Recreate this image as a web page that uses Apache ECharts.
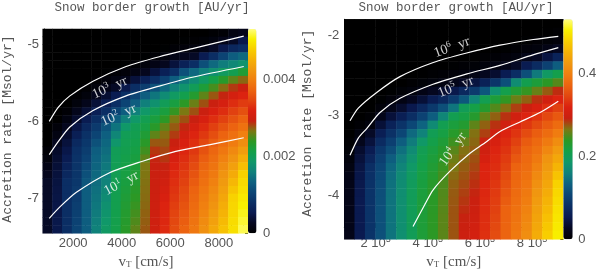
<!DOCTYPE html>
<html><head><meta charset="utf-8">
<script src="https://cdn.jsdelivr.net/npm/echarts@6/dist/echarts.min.js"></script>
<style>html,body{margin:0;padding:0;background:#fff}#c{width:600px;height:275px}</style>
</head><body><div id="c"></div>
<script>
// ---------- categories (cell centres) ----------
const leftVel = [1000,1400,1800,2200,2600,3000,3400,3800,4200,4600,5000,5400,5800,6200,6600,7000,7400,7800,8200,8600,9000];
const leftMdot = [-7.35,-7.25,-7.15,-7.05,-6.95,-6.85,-6.75,-6.65,-6.55,-6.45,-6.35,-6.25,-6.15,-6.05,-5.95,-5.85,-5.75,-5.65,-5.55,-5.45,-5.35,-5.25,-5.15,-5.05,-4.95,-4.85];
const rightVel = [100000,140000,180000,220000,260000,300000,340000,380000,420000,460000,500000,540000,580000,620000,660000,700000,740000,780000,820000,860000,900000];
const rightMdot = [-4.35,-4.25,-4.15,-4.05,-3.95,-3.85,-3.75,-3.65,-3.55,-3.45,-3.35,-3.25,-3.15,-3.05,-2.95,-2.85,-2.75,-2.65,-2.55,-2.45,-2.35,-2.25,-2.15,-2.05,-1.95,-1.85];

// ---------- snow border growth, one list per v_T column, listed from top row (high Mdot) to bottom ----------
// left panel in units of 1e-4 AU/yr
const leftGrowth = [
 [0,0,0,0,0,0,0,0,0,0,0,0,0,0,0,0.5,1,1.7,2.4,3,3,3,3,3,3,3],
 [0,0,0,0,0,0,0,0,0,0,0,0,0.8,1.5,2.5,3.2,3.6,3.9,4.2,4.4,4.6,4.7,4.8,4.9,5,5],
 [0,0,0,0,0,0,0,0,0,0,0.5,1.3,2.5,3.4,4.2,4.9,5.6,6.4,7.2,8,8,8,8,8,8,8],
 [0,0,0,0,0,0,0,0,0.3,1,2.2,3.4,4.7,6,7.3,8.1,8.4,8.6,8.8,9,9.3,9.5,9.8,10,10.3,10.5],
 [0,0,0,0,0,0,0,0.3,1,2.2,3.8,5.5,7.2,8.3,9,9.7,10.3,11,11.7,12.3,13,13,13,13,13,13],
 [0,0,0,0,0,0,0.3,1,2.2,4,6,8,9.3,10.5,11.8,13,13.3,13.6,13.9,14.2,14.5,14.8,15.1,15.4,15.7,16],
 [0,0,0,0,0,0.2,0.8,2,3.7,5.8,8,10,12,13.2,13.7,14.2,14.7,15.2,15.6,16.1,16.6,17.1,17.6,18.1,18.5,19],
 [0,0,0,0,0,0.5,1.5,3,5.5,8,10.5,13,14.8,16.5,18.3,20,20.1,20.2,20.3,20.4,20.5,20.6,20.7,20.8,20.9,21],
 [0,0,0,0,0.2,0.8,2.2,5.1,8,10.5,13,15.8,18.6,20.1,20.4,20.7,21,21.3,21.6,21.8,22.1,22.4,22.7,23,23.2,23.5],
 [0,0,0,0,0.5,1.5,4.2,8,10.5,13,15.8,18.6,20.2,20.6,21,21.4,21.8,22.2,22.6,23,23.4,23.8,24.2,24.6,25,25.5],
 [0,0,0,0.2,1,2.5,6.1,9.7,13,15.8,18.6,20.5,21.5,22.5,23.5,24.5,25.5,26.5,26.6,26.7,26.8,26.9,27,27.2,27.3,27.5],
 [0,0,0,0.5,1.7,4.2,8,11.8,15,17.8,20.3,21.9,23.4,25.5,27.5,28.5,29,29.2,29.4,29.5,29.6,29.7,29.8,29.9,30,30],
 [0,0,0.2,1,2.5,6.1,10.1,13.9,17,20,21.9,23.7,25.6,26.8,27.4,28,28.5,29.1,29.7,30.3,30.8,31.4,32,32.2,32.3,32.5],
 [0,0,0.5,1.8,4.2,8,13,16,19.1,21.7,24.1,26.5,27.4,28.3,29.3,30.2,31.1,32,32.4,32.8,33.1,33.5,33.9,34.3,34.6,35],
 [0,0.2,0.8,2.3,6.2,11.8,15.2,18,20.8,23.7,26.5,27.7,28.9,30.2,31.4,32.2,32.7,33.2,33.7,34.1,34.6,35.1,35.6,36,36.5,37],
 [0,0.3,1.2,3,8,13.9,17,20,23,25.9,27.7,29.2,30.8,32.1,32.8,33.5,34.2,34.9,35.6,36.3,37,37.4,37.8,38.2,38.6,39],
 [0,0.6,1.8,5.5,11.6,15.7,19,22.3,25.5,27.7,29.4,31.1,32.5,33.5,34.5,35.5,36.5,37.3,37.8,38.3,38.9,39.4,39.9,40.4,41,41.5],
 [0.3,1.2,3,8,14,17.5,21.1,24.7,27.5,29.4,31.4,32.8,34,35.2,36.4,37.3,38,38.7,39.3,40,40.7,41.3,42,42.7,43.3,44],
 [0.5,2,5.1,10.5,15.6,19.3,23.3,26.9,29,31,32.7,34.1,35.6,37,38,39,40,41,42,42.6,43.3,43.9,44.6,45.2,45.9,46.5],
 [1.5,3,7,13,16.7,20.5,25.5,28.4,30.8,32.7,34.1,35.6,37,38.3,39.5,40.8,42,43.2,44.4,45.6,46.8,48,48.3,48.5,48.8,49],
 [2,5,8,14,18,22.5,27,29.5,32,33.7,35.3,37,38.4,39.9,41.3,42.9,44.6,46.3,48,48.6,49.1,49.7,50.3,50.9,51.4,52]
];
// right panel in units of 1e-2 AU/yr
const rightGrowth = [
 [0,0,0,0,0,0,0,0,0,0,0,0,0,0,0.3,0.6,1,1.4,1.7,1.9,2,2,2,2,2,2],
 [0,0,0,0,0,0,0,0,0,0,0,0,0.4,1.2,2.2,3.4,4.1,4.6,4.9,5.1,5.2,5.3,5.3,5.3,5.3,5.3],
 [0,0,0,0,0,0,0,0,0,0,0,0.4,1.2,3,4.2,5.5,6.8,8,8.2,8.4,8.5,8.5,8.5,8.5,8.5,8.5],
 [0,0,0,0,0,0,0,0,0,0.2,0.8,2.1,3.9,5.8,7.6,9,9.9,10.6,11,11.3,11.5,11.6,11.7,11.7,11.7,11.7],
 [0,0,0,0,0,0,0,0,0.2,0.8,2.1,4.1,6.3,8.3,9.9,11.4,13,13.8,14.3,14.6,14.7,14.8,14.8,14.8,14.8,14.8],
 [0,0,0,0,0,0,0,0,0.6,1.6,3.5,6,8.5,10.7,13,14.5,15.6,16.4,16.9,17.2,17.4,17.5,17.5,17.5,17.5,17.5],
 [0,0,0,0,0,0,0,0.3,1,2.6,5.2,8,10.8,14,15.5,17,18,18.8,19.3,19.6,19.8,19.9,20,20,20,20],
 [0,0,0,0,0,0,0.1,0.6,1.7,3.9,7.1,10.3,13.5,16.1,18.7,20.3,20.8,21.2,21.5,21.8,22,22.1,22.2,22.3,22.3,22.3],
 [0,0,0,0,0,0,0.3,1,2.6,5.7,9.2,13,16.9,20.2,21,21.7,22.2,22.6,23,23.3,23.5,23.6,23.7,23.8,23.8,23.8],
 [0,0,0,0,0,0,0.5,1.4,3.4,7.2,11.6,16.5,20.5,21.5,22.4,23.1,23.7,24.2,24.6,24.9,25.1,25.2,25.3,25.4,25.4,25.4],
 [0,0,0,0,0,0.2,0.8,2.1,5.1,9.5,14.9,20.5,22,23.3,24.4,25.3,26,26.5,26.9,27.2,27.4,27.5,27.6,27.6,27.6,27.6],
 [0,0,0,0,0,0.4,1.1,2.8,7.1,12.4,20,21.4,22.9,24.3,25.8,26.7,27,27.3,27.6,27.9,28.2,28.5,28.8,29.1,29.4,29.7],
 [0,0,0,0,0.1,0.6,1.7,4.4,9.3,16.5,21.3,23.1,25.5,26.7,27,27.3,27.7,28,28.4,28.7,29,29.4,29.7,30,30.4,30.7],
 [0,0,0,0,0.3,1,2.5,6.2,12.3,20.5,23.1,25.7,27.2,28.2,29.1,30.1,31,32,32.1,32.2,32.3,32.5,32.6,32.7,32.8,32.9],
 [0,0,0,0,0.5,1.4,3.5,8.7,17.7,22.3,25.1,27.2,28.6,29.9,31.3,32.1,32.4,32.7,33,33.3,33.6,33.9,34.1,34.4,34.7,35],
 [0,0,0,0.2,0.8,2.1,5.5,11.6,20.9,24,26.8,28.6,30.3,32,32.6,33.1,33.7,34.2,34.8,35.3,35.9,36.4,37,37,37.1,37.1],
 [0,0,0,0.4,1.2,3,8,17.2,22.6,25.9,28.2,30.3,32.2,33.2,34.1,35.1,36,37,37.3,37.5,37.8,38.1,38.4,38.6,38.9,39.2],
 [0,0,0.2,0.8,2.1,5.5,11.6,20.7,24.1,27.2,29.6,32,33.4,34.9,36.3,37.2,37.6,38,38.4,38.8,39.2,39.6,40.1,40.5,40.9,41.3],
 [0,0,0.4,1.1,2.8,7.5,15.3,22.2,25.8,28.6,31.2,33.2,34.8,36.5,37.6,38.4,39.2,40,40.8,41.6,42.2,42.7,43.1,43.6,44,44.5],
 [0,0.1,0.6,1.7,4.5,10.1,19,23.7,27.4,30.3,32.7,34.6,36.4,37.9,39.3,40.6,42,42.6,43.3,43.9,44.5,45.2,45.8,46.4,47.1,47.7],
 [0,0.3,0.8,2.5,6.5,13,20.9,25.2,28.8,32,34,36,37.8,39.5,41.2,42.7,44,45.3,46.7,48,48.4,48.8,49.2,49.5,49.9,50.3]
];

// ---------- contour lines (time-scale), [v_T, log Mdot] ----------
const left1e3 = [[1017,-6.0],[1385,-5.818],[1864,-5.669],[2817,-5.478],[4180,-5.287],[5547,-5.16],[6909,-5.055],[9025,-4.893]];
const left1e2 = [[1017,-6.433],[1385,-6.264],[1864,-6.073],[2817,-5.86],[4180,-5.669],[5547,-5.542],[6909,-5.427],[9025,-5.287]];
const left1e1 = [[1017,-7.26],[1455,-7.112],[2134,-6.922],[3501,-6.667],[4863,-6.518],[6226,-6.391],[7593,-6.306],[9025,-6.213]];
const right1e6 = [[101900,-3.069],[133700,-2.911],[204300,-2.715],[293600,-2.517],[421400,-2.34],[549500,-2.222],[677200,-2.124],[804900,-2.053],[900800,-2.013]];
const right1e5 = [[101900,-3.502],[133700,-3.286],[165900,-3.167],[216900,-2.966],[293600,-2.789],[420200,-2.612],[550600,-2.482],[677200,-2.376],[803800,-2.246],[900800,-2.155]];
const right1e4 = [[343500,-4.393],[389500,-4.113],[420200,-3.936],[485400,-3.7],[562100,-3.475],[619700,-3.345],[677200,-3.203],[753900,-3.085],[830600,-2.967],[900800,-2.825]];
// contour labels: [v_T, log Mdot, exponent, angle]
const leftLabels = [[3513,-5.564,'3',24],[3881,-5.92,'2',24],[3984,-6.805,'1',28]];
const rightLabels = [[493000,-2.151,'6',20],[508000,-2.647,'5',22],[497000,-3.427,'4',55]];

// ---------- ticks ----------
const leftXLabels = [2000,4000,6000,8000];
const leftXTicks = [1000,1500,2000,2500,3000,3500,4000,4500,5000,5500,6000,6500,7000,7500,8000,8500,9000];
const leftYLabels = [-7,-6,-5];
const leftYTicks = [-7.2,-7,-6.8,-6.6,-6.4,-6.2,-6,-5.8,-5.6,-5.4,-5.2,-5,-4.8];
const rightXLabels = [200000,400000,600000,800000];
const rightXTicks = [100000,150000,200000,250000,300000,350000,400000,450000,500000,550000,600000,650000,700000,750000,800000,850000,900000];
const rightYLabels = [-4,-3,-2];
const rightYTicks = [-4.2,-4,-3.8,-3.6,-3.4,-3.2,-3,-2.8,-2.6,-2.4,-2.2,-2];
const barLabels = [0,20,40];
const barTicks = [0,5,10,15,20,25,30,35,40,45,50];

const COLORS = ['#000000','#050720','#0a1a50','#0b2e64','#0c4575','#0e6080','#10817b','#109869','#14a048','#2c9824','#7c7812','#c82010','#db2010','#e24610','#ec6410','#f07f10','#f09810','#f5b106','#f8ce00','#f8f000','#ffff80'];

const L = {left:42.7, top:29, width:205.3, height:204.3};
const R = {left:344.3, top:19.3, width:219, height:220};
const LB = {left:248, top:29, width:8.5, height:204.3};
const RB = {left:563.3, top:19.3, width:9.4, height:220};

const TXT = '#555';
const tickFont = {fontFamily:'Liberation Sans', fontSize:13, color:TXT};

function toCells(grid){
  const out = [];
  grid.forEach((col,c)=>col.forEach((v,r)=>out.push([c, col.length-1-r, v])));
  return out;
}
function catAxis(gi, data){ return {type:'category', gridIndex:gi, data:data, show:false, boundaryGap:true}; }
function hidAxis(gi){ return {type:'value', gridIndex:gi, show:false, min:0, max:1}; }

const xName = {
  name:'v{sub|T} [cm/s]', nameLocation:'middle', nameGap:21,
  nameTextStyle:{fontFamily:'Liberation Serif', fontSize:15, color:TXT,
    rich:{sub:{fontFamily:'Liberation Serif', fontSize:9, color:TXT, padding:[5,0,0,0]}}}
};
const yName = {
  name:'Accretion rate [Msol/yr]', nameLocation:'middle', nameGap:30,
  nameTextStyle:{fontFamily:'Liberation Mono', fontSize:13, color:TXT}
};

function valueX(gi, min, max, ticks, labels, fmt){
  return Object.assign({type:'value', gridIndex:gi, min:min, max:max, position:'bottom',
    axisLine:{show:true, lineStyle:{color:'#000', width:1}},
    axisTick:{show:true, inside:true, length:4, customValues:ticks, lineStyle:{color:'#000'}},
    axisLabel:Object.assign({customValues:labels, margin:8, formatter:fmt,
      rich:{n:{fontFamily:'Liberation Sans', fontSize:13, color:TXT},
            sup:{fontFamily:'Liberation Sans', fontSize:9, color:TXT, padding:[0,0,8,0]}}}, tickFont),
    splitLine:{show:false}}, xName);
}
function valueY(gi, min, max, ticks, labels){
  return Object.assign({type:'value', gridIndex:gi, min:min, max:max, position:'left',
    axisLine:{show:true, lineStyle:{color:'#000', width:1}},
    axisTick:{show:true, inside:true, length:4, customValues:ticks, lineStyle:{color:'#000'}},
    axisLabel:Object.assign({customValues:labels, margin:5, formatter:v=>String(Math.round(v))}, tickFont),
    splitLine:{show:false}}, yName);
}
function barAxis(gi, labels, ticks, fmt, margin){
  return {type:'value', gridIndex:gi, min:0, max:53, position:'right',
    axisLine:{show:false},
    axisTick:{show:true, inside:true, length:3, customValues:ticks, lineStyle:{color:'#000'}},
    axisLabel:Object.assign({customValues:labels, margin:margin, formatter:fmt}, tickFont),
    splitLine:{show:false}};
}
function contour(xi, data){
  return {type:'line', xAxisIndex:xi, yAxisIndex:xi, data:data, showSymbol:false, symbol:'none',
    smooth:0.25, lineStyle:{color:'#ffffff', width:1.2}, silent:true, z:5, animation:false};
}
function labelSeries(xi, labels){
  return {type:'scatter', xAxisIndex:xi, yAxisIndex:xi, symbolSize:0, silent:true, z:6,
    data:labels.map(l=>({value:[l[0], l[1]], label:{show:true, position:'inside', rotate:l[3],
      formatter:'10{s|'+l[2]+'}  yr', fontFamily:'Liberation Serif', fontSize:14, color:'#ffffff',
      rich:{s:{fontFamily:'Liberation Serif', fontSize:9, color:'#ffffff', padding:[0,0,8,0]}}}}))};
}

const chart = echarts.init(document.getElementById('c'), null, {renderer:'canvas'});
chart.setOption({
  animation:false,
  backgroundColor:'#ffffff',
  title:[
    {text:'Snow border growth [AU/yr]', left:152, top:1.5, padding:0, textAlign:'center',
      textStyle:{fontFamily:'Liberation Mono', fontSize:12.5, fontWeight:'normal', color:TXT}},
    {text:'Snow border growth [AU/yr]', left:456, top:1.5, padding:0, textAlign:'center',
      textStyle:{fontFamily:'Liberation Mono', fontSize:12.5, fontWeight:'normal', color:TXT}}
  ],
  grid:[L, L, LB, R, R, RB].map(g=>Object.assign({containLabel:false}, g)),
  xAxis:[
    catAxis(0, leftVel),
    valueX(1, 800, 9200, leftXTicks, leftXLabels, v=>String(v)),
    hidAxis(2),
    catAxis(3, rightVel),
    valueX(4, 80000, 920000, rightXTicks, rightXLabels, v=>'{n|'+(v/100000)+' 10}{sup|5}'),
    hidAxis(5)
  ],
  yAxis:[
    catAxis(0, leftMdot),
    valueY(1, -7.4, -4.8, leftYTicks, leftYLabels),
    barAxis(2, barLabels, barTicks, v=> v===0 ? '0' : (v/10000).toFixed(3), 6.5),
    catAxis(3, rightMdot),
    valueY(4, -4.4, -1.8, rightYTicks, rightYLabels),
    barAxis(5, barLabels, barTicks, v=> v===0 ? '0' : (v/100).toFixed(1), 5.5)
  ],
  visualMap:[
    {type:'continuous', seriesIndex:0, min:0, max:53, calculable:false, hoverLink:false, orient:'vertical',
      left:LB.left, top:LB.top, itemWidth:LB.width, itemHeight:LB.height, padding:0, inRange:{color:COLORS}},
    {type:'continuous', seriesIndex:1, min:0, max:53, calculable:false, hoverLink:false, orient:'vertical',
      left:RB.left, top:RB.top, itemWidth:RB.width, itemHeight:RB.height, padding:0, inRange:{color:COLORS}}
  ],
  series:[
    {type:'heatmap', xAxisIndex:0, yAxisIndex:0, data:toCells(leftGrowth), progressive:0, silent:true, emphasis:{disabled:true}},
    {type:'heatmap', xAxisIndex:3, yAxisIndex:3, data:toCells(rightGrowth), progressive:0, silent:true, emphasis:{disabled:true}},
    contour(1, left1e3), contour(1, left1e2), contour(1, left1e1),
    contour(4, right1e6), contour(4, right1e5), contour(4, right1e4),
    labelSeries(1, leftLabels), labelSeries(4, rightLabels)
  ]
});
</script>
</body></html>
